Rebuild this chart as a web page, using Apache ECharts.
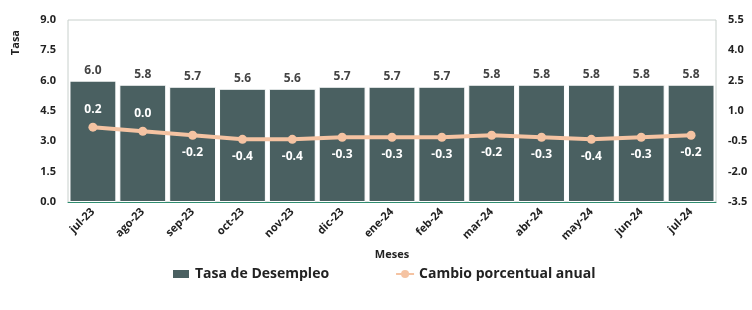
<!DOCTYPE html>
<html>
<head>
<meta charset="utf-8">
<script src="https://cdn.jsdelivr.net/npm/echarts@6/dist/echarts.min.js"></script>
<style>
html, body { margin: 0; padding: 0; background: #fff; }
#myChart { width: 752px; height: 310px; }
</style>
</head>
<body>
<div id="myChart"></div>
<script>
// datos
var meses = ['jul-23', 'ago-23', 'sep-23', 'oct-23', 'nov-23', 'dic-23', 'ene-24', 'feb-24', 'mar-24', 'abr-24', 'may-24', 'jun-24', 'jul-24'];
var tasaDesempleo = [6.0, 5.8, 5.7, 5.6, 5.6, 5.7, 5.7, 5.7, 5.8, 5.8, 5.8, 5.8, 5.8];
var cambioAnual = [0.2, 0.0, -0.2, -0.4, -0.4, -0.3, -0.3, -0.3, -0.2, -0.3, -0.4, -0.3, -0.2];

var fuente = 'Open Sans';

//etiquetas de la linea: positivos arriba, negativos abajo
function getCambioData() {
    return cambioAnual.map(function (v) {
        return {
            value: v,
            label: { position: v >= 0 ? 'top' : 'bottom' }
        };
    });
}

var myChart = echarts.init(document.getElementById('myChart'));
var option = {
    textStyle: { fontFamily: fuente },
    animation: false,
    grid: {
        top: 20,
        left: 68,
        right: 36,
        bottom: 108,
        containLabel: false,
        outerBoundsMode: 'none',
        show: true,
        borderColor: '#c8d0cc',
        borderWidth: 1
    },
    graphic: [{
        type: 'text',
        left: 10,
        top: 30,
        rotation: Math.PI / 2,
        style: {
            text: 'Tasa',
            fontSize: 11,
            fontWeight: 'bold',
            fill: '#222',
            fontFamily: fuente
        }
    }],
    legend: {
        bottom: 24,
        left: 166,
        itemGap: 66,
        itemWidth: 18,
        itemHeight: 10,
        textStyle: { fontSize: 14, fontWeight: 'bold', color: '#222', fontFamily: fuente },
        data: [
            { name: 'Tasa de Desempleo', icon: 'rect' },
            { name: 'Cambio porcentual anual' }
        ]
    },
    xAxis: {
        type: 'category',
        data: meses,
        name: 'Meses',
        nameLocation: 'middle',
        nameGap: 44,
        nameTextStyle: { fontSize: 11, fontWeight: 'bold', color: '#222' },
        axisLine: { lineStyle: { color: '#2e8b6e', width: 1 } },
        axisTick: { show: false },
        axisLabel: {
            interval: 0,
            rotate: 45,
            fontSize: 11,
            fontWeight: 'bold',
            color: '#222',
            margin: 8
        }
    },
    yAxis: [{
        type: 'value',
        min: 0,
        max: 9,
        interval: 1.5,
        splitLine: { show: false },
        axisLine: { show: false },
        axisTick: { show: false },
        axisLabel: {
            fontSize: 11,
            fontWeight: 'bold',
            color: '#222',
            margin: 12,
            formatter: function (value) {
                return value.toFixed(1);
            }
        }
    }, {
        type: 'value',
        min: -3.5,
        max: 5.5,
        interval: 1.5,
        position: 'right',
        splitLine: { show: false },
        axisLine: { show: false },
        axisTick: { show: false },
        axisLabel: {
            fontSize: 11,
            fontWeight: 'bold',
            color: '#222',
            margin: 12,
            formatter: function (value) {
                return value.toFixed(1);
            }
        }
    }],
    series: [{
        name: 'Tasa de Desempleo',
        type: 'bar',
        data: tasaDesempleo,
        barCategoryGap: '6%',
        itemStyle: { color: '#4a6061', borderColor: '#ffffff', borderWidth: 1 },
        label: {
            show: true,
            position: 'top',
            distance: 4,
            fontSize: 12,
            fontWeight: 'bold',
            color: '#444',
            formatter: function (p) {
                return p.value.toFixed(1);
            }
        }
    }, {
        name: 'Cambio porcentual anual',
        type: 'line',
        yAxisIndex: 1,
        data: getCambioData(),
        symbol: 'circle',
        symbolSize: 9,
        lineStyle: { color: '#f5c3a2', width: 4 },
        itemStyle: { color: '#f5c3a2' },
        label: {
            show: true,
            distance: 7,
            fontSize: 12,
            fontWeight: 'bold',
            color: '#ffffff',
            formatter: function (p) {
                return p.value.toFixed(1);
            }
        }
    }]
};
myChart.setOption(option);
</script>
</body>
</html>
